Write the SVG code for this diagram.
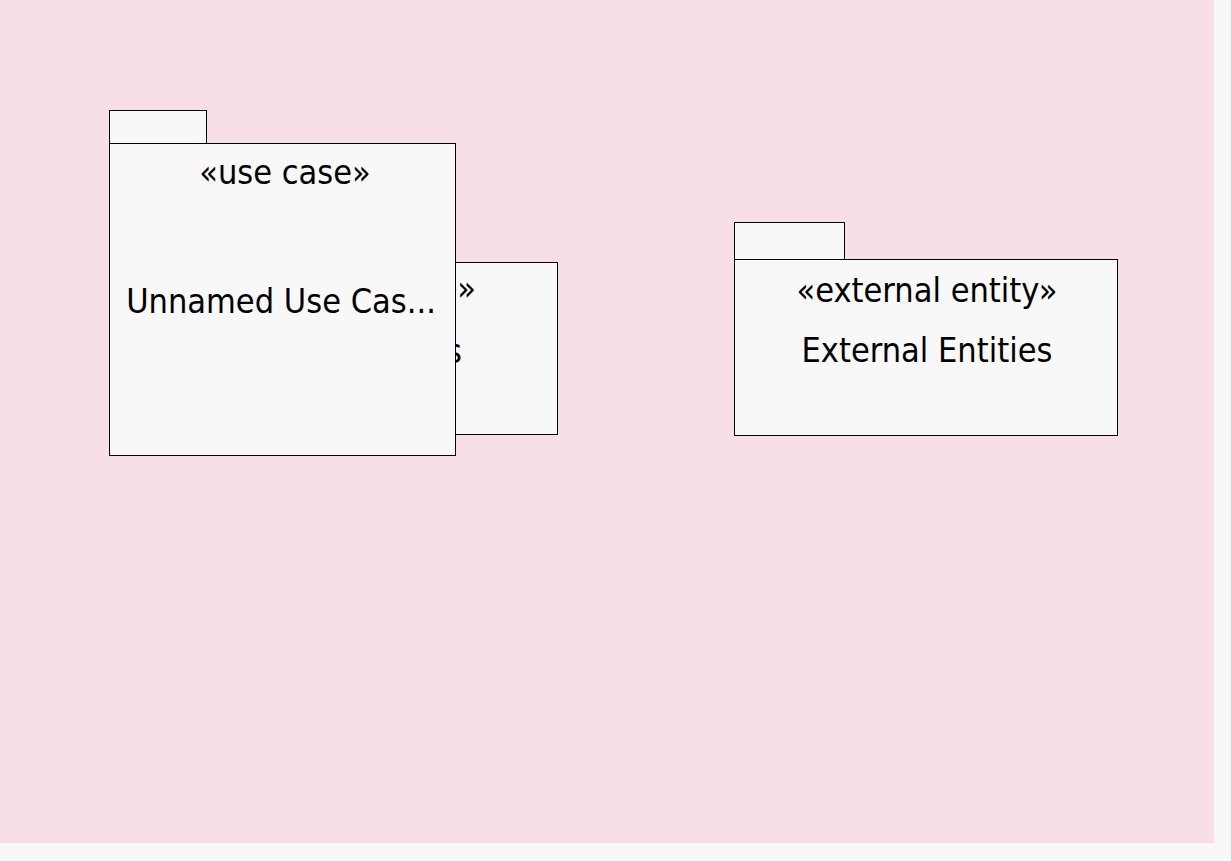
<svg xmlns="http://www.w3.org/2000/svg" width="1231" height="861" viewBox="0 0 1231 861">
<style>
.pkg{fill:#f8f8f8;stroke:#000;stroke-width:1}
.t{font-family:"DejaVu Sans Condensed","DejaVu Sans",sans-serif;font-stretch:condensed;font-size:34px;fill:#000}
.c{text-anchor:middle}
.e{text-anchor:end}
</style>
<rect x="0" y="0" width="1231" height="861" fill="#f8f8f8"/>
<rect x="0" y="0" width="1214" height="843" fill="#f7dfe5"/>
<g id="pkg-hidden">
<rect class="pkg" x="200.5" y="262.5" width="357" height="172"/>
<text class="t e" x="476" y="300">e»</text>
<text class="t e" x="462" y="363">s</text>
</g>
<g id="pkg-usecase">
<rect class="pkg" x="109.5" y="110.5" width="97" height="33"/>
<rect class="pkg" x="109.5" y="143.5" width="346" height="312"/>
<text class="t c" x="285" y="184">«use case»</text>
<text class="t c" x="281" y="313">Unnamed Use Cas...</text>
</g>
<g id="pkg-external">
<rect class="pkg" x="734.5" y="222.5" width="110" height="37"/>
<rect class="pkg" x="734.5" y="259.5" width="383" height="176"/>
<text class="t c" x="927" y="302">«external entity»</text>
<text class="t c" x="927" y="362">External Entities</text>
</g>
<g id="connectors"></g>
</svg>
